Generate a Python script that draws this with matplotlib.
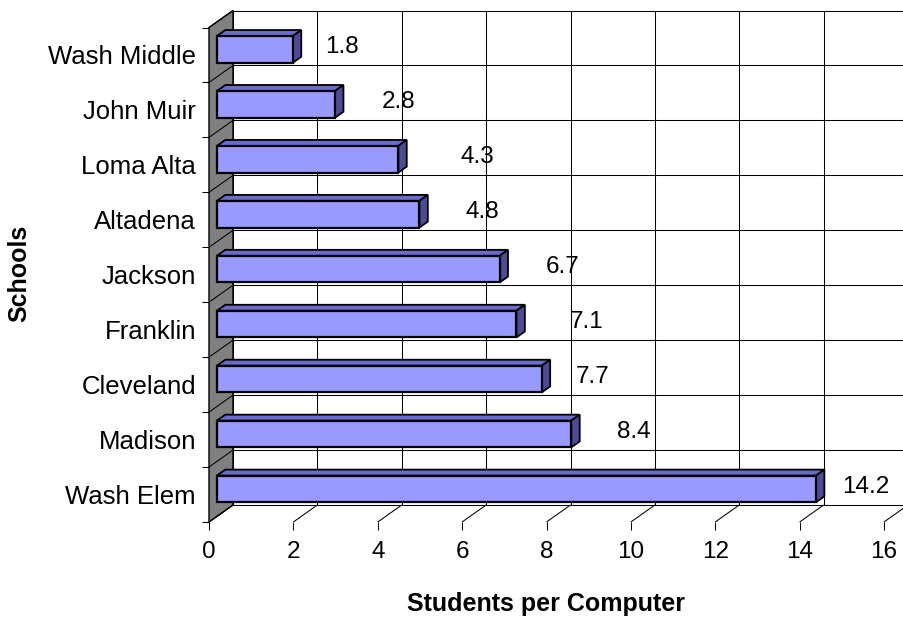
import matplotlib
matplotlib.use('Agg')

import matplotlib.pyplot as plt
from matplotlib.patches import Polygon

# Data (bottom to top, as drawn)
schools = ['Wash Elem', 'Madison', 'Cleveland', 'Franklin', 'Jackson',
           'Altadena', 'Loma Alta', 'John Muir', 'Wash Middle']
students_per_computer = [14.2, 8.4, 7.7, 7.1, 6.7, 4.8, 4.3, 2.8, 1.8]
x_ticks = [0, 2, 4, 6, 8, 10, 12, 14, 16]

# Excel put the value labels at uneven distances right of the bars (value units)
label_pad = [1.37, 1.67, 1.39, 1.86, 1.68, 1.68, 2.06, 1.70, 1.34]

plt.rcParams['font.family'] = ['Liberation Sans', 'DejaVu Sans']

W, H = 904, 619
fig = plt.figure(figsize=(W / 100, H / 100), dpi=100)

# front plane of the 3D box in pixels
left_px, right_px = 209, 884
bottom_px, top_px = 522, 27.5
ax = fig.add_axes([left_px / W, (H - bottom_px) / H,
                   (right_px - left_px) / W, (bottom_px - top_px) / H])
ax.set_xlim(0, 16)
ax.set_ylim(0, len(schools))

# depth of the box, converted to data units
px_x = (right_px - left_px) / 16.0
px_y = (bottom_px - top_px) / len(schools)
DX = 24 / px_x
DY = 17 / px_y
n = len(schools)

grid = dict(color='black', lw=0.75, clip_on=False, zorder=1, solid_capstyle='butt')

# back wall + floor gridlines
for v in x_ticks:
    ax.plot([v + DX, v + DX], [DY, n + DY], **grid)
    ax.plot([v, v + DX], [0, DY], **grid)
for k in range(n + 1):
    ax.plot([DX, 16 + DX], [k + DY, k + DY], **grid)

# left wall
wall = Polygon([(0, 0), (DX, DY), (DX, n + DY), (0, n)], closed=True,
               facecolor='#808080', edgecolor='black', lw=1, clip_on=False, zorder=2)
ax.add_patch(wall)
for k in range(n + 1):
    ax.plot([0, DX], [k, k + DY], color='black', lw=0.75, clip_on=False, zorder=2)

# 3D bars
d0, d1 = 0.33, 0.68
bar_h = 0.486
front_col = '#9999ff'
top_col = '#6b6bcb'
side_col = '#4c4c96'
for i, v in enumerate(students_per_computer):
    xa = d0 * DX
    xb = v + d0 * DX
    ya = i + 0.5 - bar_h / 2 + d0 * DY
    yb = i + 0.5 + bar_h / 2 + d0 * DY
    ddx = (d1 - d0) * DX
    ddy = (d1 - d0) * DY
    top = Polygon([(xa, yb), (xb, yb), (xb + ddx, yb + ddy), (xa + ddx, yb + ddy)],
                  closed=True, facecolor=top_col, edgecolor='black', lw=1.3,
                  joinstyle='miter', clip_on=False, zorder=3)
    side = Polygon([(xb, ya), (xb, yb), (xb + ddx, yb + ddy), (xb + ddx, ya + ddy)],
                   closed=True, facecolor=side_col, edgecolor='black', lw=1.3,
                   joinstyle='miter', clip_on=False, zorder=3)
    front = Polygon([(xa, ya), (xb, ya), (xb, yb), (xa, yb)],
                    closed=True, facecolor=front_col, edgecolor='black', lw=1.6,
                    joinstyle='miter', clip_on=False, zorder=4)
    ax.add_patch(top)
    ax.add_patch(side)
    ax.add_patch(front)
    ax.text(v + label_pad[i], i + 0.5 + 8 / px_y, str(v), ha='center', va='center',
            fontsize=17.5, color='black', zorder=5)

# axes ticks and labels
for s in ax.spines.values():
    s.set_visible(False)
ax.set_xticks(x_ticks)
ax.set_xticklabels([str(t) for t in x_ticks], fontsize=17.5)
ax.tick_params(axis='x', direction='out', length=5.8, width=0.75, pad=8)
ax.set_yticks(range(n + 1))
ax.set_yticklabels([])
ax.tick_params(axis='y', which='major', direction='out', length=5, width=0.75)
ax.set_yticks([i + 0.5 for i in range(n)], minor=True)
ax.set_yticklabels(schools, minor=True, fontsize=18.5)
ax.tick_params(axis='y', which='minor', length=0, pad=9.4)

fig.text((left_px + right_px) / 2 / W, 1 - 604 / H, 'Students per Computer',
         ha='center', va='center', fontsize=18, fontweight='bold')
fig.text(19 / W, 1 - 273.5 / H, 'Schools', ha='center', va='center',
         rotation=90, fontsize=18, fontweight='bold')

plt.savefig('out.png', dpi=100)
plt.close(fig)
